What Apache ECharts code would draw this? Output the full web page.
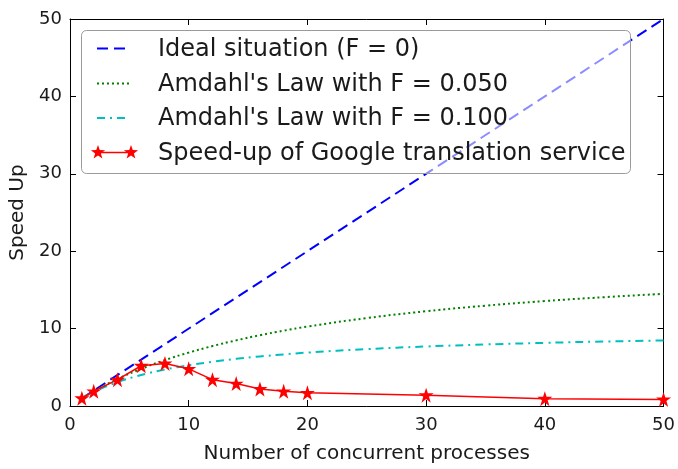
<!DOCTYPE html>
<html><head><meta charset="utf-8">
<script src="https://cdn.jsdelivr.net/npm/echarts@6/dist/echarts.min.js"></script>
<style>html,body{margin:0;padding:0;background:#fff}#c{width:678px;height:469px}</style>
</head><body><div id="c"></div>
<script>
const xTicks = [0, 10, 20, 30, 40, 50];
const yTicks = [0, 10, 20, 30, 40, 50];
const idealX = [1, 50];
const idealY = [1, 50];
const amdahlX = [1, 2, 4, 6, 8, 10, 12, 14, 16, 18, 20, 25, 30, 35, 40, 45, 50];
const amdahl05 = [1, 1.90, 3.48, 4.80, 5.93, 6.90, 7.74, 8.48, 9.14, 9.73, 10.26, 11.36, 12.24, 12.96, 13.56, 14.06, 14.49];
const amdahl10 = [1, 1.82, 3.08, 4.00, 4.71, 5.26, 5.71, 6.09, 6.40, 6.67, 6.90, 7.35, 7.69, 7.95, 8.16, 8.33, 8.47];
const googleX = [1, 2, 4, 6, 8, 10, 12, 14, 16, 18, 20, 30, 40, 50];
const googleY = [1.0, 1.9, 3.4, 5.2, 5.5, 4.8, 3.4, 2.9, 2.2, 1.9, 1.7, 1.4, 0.95, 0.85];
const names = ['Ideal situation (F = 0)', "Amdahl's Law with F = 0.050", "Amdahl's Law with F = 0.100", 'Speed-up of Google translation service'];

const zip = (a, b) => a.map((v, i) => [v, b[i]]);
const star = 'path://M50,0 L61.8,35.4 L100,35.4 L69.1,57.3 L80.9,95.1 L50,72.4 L19.1,95.1 L30.9,57.3 L0,35.4 L38.2,35.4 Z';
const font = 'DejaVu Sans';
const colors = ['#0000ff', '#008000', '#00bfbf', '#ff0000'];
const dashes = [[11, 6], [2, 3], [8, 5, 2, 5], null];
const widths = [2, 2, 2, 1.5];

function starPoints(cx, cy, R) {
  const r = R * 0.4, pts = [];
  for (let k = 0; k < 10; k++) {
    const a = -Math.PI / 2 + k * Math.PI / 5;
    const rr = k % 2 === 0 ? R : r;
    pts.push([cx + rr * Math.cos(a), cy + rr * Math.sin(a)]);
  }
  return pts;
}

const chart = echarts.init(document.getElementById('c'));
const baseAxis = {
  min: 0, max: 50, interval: 10,
  axisLine: {show: true, onZero: false, lineStyle: {color: '#000', width: 1}},
  axisTick: {show: true, inside: true, length: 6, lineStyle: {color: '#000'}},
  splitLine: {show: false}
};

// legend drawn as graphic elements
const legendRows = [48.5, 83.5, 118, 152.5];
const legendGraphics = [{
  type: 'rect', shape: {x: 81.5, y: 30.5, width: 549, height: 143, r: 5},
  style: {fill: 'rgba(255,255,255,0.55)', stroke: '#9a9a9a', lineWidth: 1}, z: 100
}];
names.forEach((n, i) => {
  const y = legendRows[i];
  legendGraphics.push({
    type: 'line', shape: {x1: 97, y1: y, x2: 130, y2: y},
    style: {stroke: colors[i], lineWidth: widths[i], lineDash: dashes[i] || null}, z: 101
  });
  if (i === 3) {
    [98, 131].forEach(cx => legendGraphics.push({
      type: 'polygon', shape: {points: starPoints(cx, y, 7.5)},
      style: {fill: colors[i]}, z: 102
    }));
  }
  legendGraphics.push({
    type: 'text', x: 158, y: y + 1,
    style: {text: n, font: '24px "DejaVu Sans"', fill: '#1a1a1a', verticalAlign: 'middle'}, z: 101
  });
});

chart.setOption({
  animation: false,
  textStyle: {fontFamily: font},
  grid: {left: 70, right: 14, top: 19, bottom: 61},
  xAxis: [
    Object.assign({}, baseAxis, {type: 'value', position: 'bottom',
      name: 'Number of concurrent processes', nameLocation: 'middle', nameGap: 38,
      nameTextStyle: {fontSize: 20, color: '#1a1a1a', fontFamily: font},
      axisLabel: {fontSize: 18, color: '#1a1a1a', margin: 10, fontFamily: font,
        formatter: v => xTicks.includes(v) ? String(v) : ''}}),
    Object.assign({}, baseAxis, {type: 'value', position: 'top', axisLabel: {show: false}})
  ],
  yAxis: [
    Object.assign({}, baseAxis, {type: 'value', position: 'left',
      name: 'Speed Up', nameLocation: 'middle', nameGap: 40,
      nameTextStyle: {fontSize: 20, color: '#1a1a1a', fontFamily: font},
      axisLabel: {fontSize: 18, color: '#1a1a1a', margin: 8, fontFamily: font,
        formatter: v => yTicks.includes(v) ? String(v) : ''}}),
    Object.assign({}, baseAxis, {type: 'value', position: 'right', axisLabel: {show: false}})
  ],
  graphic: legendGraphics,
  series: [
    {name: names[0], type: 'line', data: zip(idealX, idealY), symbol: 'none', z: 2,
      lineStyle: {color: colors[0], width: widths[0], type: dashes[0]}, itemStyle: {color: colors[0]}},
    {name: names[1], type: 'line', data: zip(amdahlX, amdahl05), symbol: 'none', smooth: true, z: 2,
      lineStyle: {color: colors[1], width: widths[1], type: dashes[1]}, itemStyle: {color: colors[1]}},
    {name: names[2], type: 'line', data: zip(amdahlX, amdahl10), symbol: 'none', smooth: true, z: 2,
      lineStyle: {color: colors[2], width: widths[2], type: dashes[2]}, itemStyle: {color: colors[2]}},
    {name: names[3], type: 'line', data: zip(googleX, googleY), symbol: star, symbolSize: 15, z: 3,
      lineStyle: {color: colors[3], width: widths[3]}, itemStyle: {color: colors[3]}}
  ]
});
</script></body></html>
